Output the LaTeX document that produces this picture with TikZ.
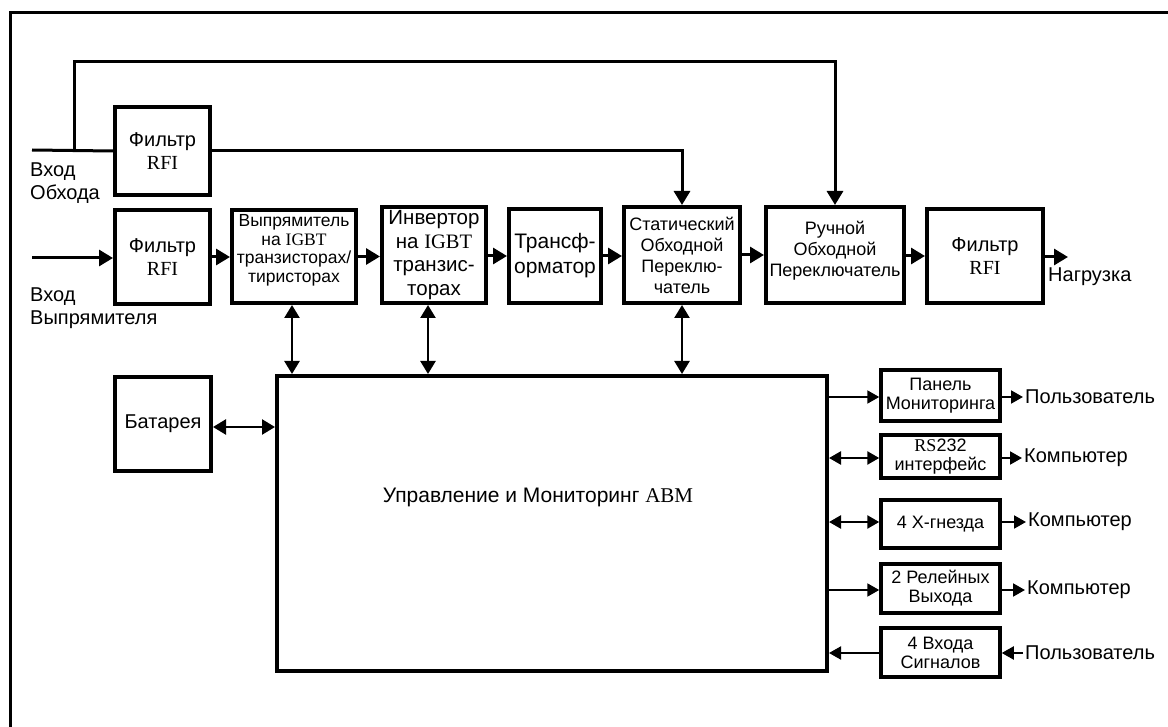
\documentclass[tikz,border=0pt]{standalone}
\usepackage{fontspec}
\setmainfont{Liberation Sans}
\newfontfamily\tnr{Liberation Serif}
\usetikzlibrary{arrows.meta}
\begin{document}
\begin{tikzpicture}[x=1pt,y=-1pt,
  box/.style={draw, line width=4pt, inner sep=0pt, align=center},
  sbox/.style={draw, line width=3.5pt, inner sep=0pt, align=center, minimum width=119pt},
  f20/.style={font=\fontsize{20}{23}\selectfont},
  f18/.style={font=\fontsize{18}{19}\selectfont},
  arr/.style={line width=3pt, -{Triangle[length=14pt,width=16pt]}},
  vdarr/.style={line width=2.5pt, {Triangle[length=13pt,width=15pt]}-{Triangle[length=13pt,width=15pt]}},
  darr/.style={line width=2.5pt, {Triangle[length=12pt,width=13pt]}-{Triangle[length=12pt,width=13pt]}},
  tarr/.style={line width=2pt, -{Triangle[length=12pt,width=13pt]}},
  plain/.style={line width=3pt},
  lbl/.style={inner sep=2pt, align=left, f20},
]
\useasboundingbox (0,0) rectangle (1168,727);
% outer frame
\draw[line width=3pt] (10,727) -- (10,13) -- (1168,13);

% upper row
\node[box, f20, minimum width=95pt, minimum height=88pt] (f1) at (162.5,151) {Фильтр\\{\tnr RFI}};
\node[box, f20, minimum width=95pt, minimum height=94pt] (f2) at (162.5,257) {Фильтр\\{\tnr RFI}};
\node[box, minimum width=124pt, minimum height=93pt] (rect) at (294,256.5) {};
\node[align=center, inner sep=0pt, font=\fontsize{17.5}{18.5}\selectfont] (rectt) at ([yshift=6pt]rect.center) {Выпрямитель\\на {\tnr IGBT}\\транзисторах/\\тиристорах};
\node[box, font=\fontsize{20.5}{23.5}\selectfont, minimum width=104pt, minimum height=96pt] (inv) at (434,255) {Инвертор\\на {\tnr IGBT}\\транзис-\\торах};
\node[box, font=\fontsize{21}{25}\selectfont, minimum width=92pt, minimum height=94pt] (tr) at (555,256) {Трансф-\\орматор};
\node[box, font=\fontsize{18}{21}\selectfont, minimum width=116pt, minimum height=96pt] (st) at (682,255) {Статический\\Обходной\\Переклю-\\чатель};
\node[box, minimum width=138pt, minimum height=96pt] (man) at (835,255) {};
\node[align=center, inner sep=0pt, font=\fontsize{18}{21}\selectfont] (mant) at ([yshift=4pt]man.center) {Ручной\\Обходной\\Переключатель};
\node[box, f20, minimum width=116pt, minimum height=94pt] (f3) at (985,256) {Фильтр\\{\tnr RFI}};

% control
\node[box, f20, minimum width=96pt, minimum height=94pt] (bat) at (163,424) {Батарея};
\node[box, minimum width=550pt, minimum height=295pt] (ctl) at (552,523.5) {};
\node[font=\fontsize{21}{24}\selectfont, inner sep=0pt] (ctlt) at (538,497) {Управление и Мониторинг {\tnr ABM}};

% right boxes
\node[sbox, f18, minimum height=51pt] (pan) at (940.5,395.5) {Панель\\Мониторинга};
\node[sbox, f18, minimum height=43pt] (rs) at (940.5,456.5) {{\tnr RS}232\\интерфейс};
\node[sbox, f18, minimum height=48pt] (x4) at (940.5,524) {4 X-гнезда};
\node[sbox, f18, minimum height=49pt] (rel) at (940.5,588.5) {2 Релейных\\Выхода};
\node[sbox, f18, minimum height=49pt] (sig) at (940.5,652.5) {4 Входа\\Сигналов};

% labels
\node[lbl, anchor=west] (lbo) at (28,183.5) {Вход\\Обхода};
\node[lbl, anchor=west] (lbv) at (28,308) {Вход\\Выпрямителя};
\node[lbl, anchor=west] (load) at (1046,277) {Нагрузка};
\node[lbl, anchor=west] (u1) at (1023,397) {Пользователь};
\node[lbl, anchor=west] (c1) at (1022,458) {Компьютер};
\node[lbl, anchor=west] (c2) at (1026,522) {Компьютер};
\node[lbl, anchor=west] (c3) at (1025,590) {Компьютер};
\node[lbl, anchor=west] (u2) at (1023,653) {Пользователь};

\coordinate (in1) at (32,150);
\coordinate (j1) at (74,150);
\coordinate (in2) at (32,258);
\coordinate (out) at (1068,257);

% bypass
\draw[plain] (in1) -- (f1.west);
\draw[arr] (j1) -- (74,62) -| (man.north);
\draw[arr] (f1.east) -| (st.north);

% main chain
\draw[arr] (in2) -- (in2 -| f2.west);
\draw[arr] (f2.east) -- (f2.east -| rect.west);
\draw[arr] (rect.east) -- (rect.east -| inv.west);
\draw[arr] (inv.east |- tr.west) -- (tr.west);
\draw[arr] (tr.east) -- (tr.east -| st.west);
\draw[arr] (st.east |- man.west) -- (man.west);
\draw[arr] (man.east |- f3.west) -- (f3.west);
\draw[arr] (f3.east |- out) -- (out);

% verticals
\draw[vdarr] ([xshift=-2pt]rect.south) -- ([xshift=-2pt]rect.south |- ctl.north);
\draw[vdarr] ([xshift=-6pt]inv.south) -- ([xshift=-6pt]inv.south |- ctl.north);
\draw[vdarr] (st.south) -- (st.south |- ctl.north);
\draw[vdarr] ([yshift=-3pt]bat.east) -- ([yshift=-3pt]bat.east -| ctl.west);

% right side
\draw[tarr] (ctl.east |- u1) -- (pan.west |- u1);
\draw[darr] (ctl.east |- c1) -- (rs.west |- c1);
\draw[darr] (ctl.east |- c2) -- (x4.west |- c2);
\draw[tarr] (ctl.east |- c3) -- (rel.west |- c3);
\draw[tarr] (sig.west |- u2) -- (ctl.east |- u2);

\draw[tarr] (pan.east |- u1) -- (u1.west);
\draw[tarr] (rs.east |- c1) -- (c1.west);
\draw[tarr] (x4.east |- c2) -- (c2.west);
\draw[tarr] (rel.east |- c3) -- (c3.west);
\draw[tarr] (u2.west) -- (sig.east |- u2);
\end{tikzpicture}
\end{document}
